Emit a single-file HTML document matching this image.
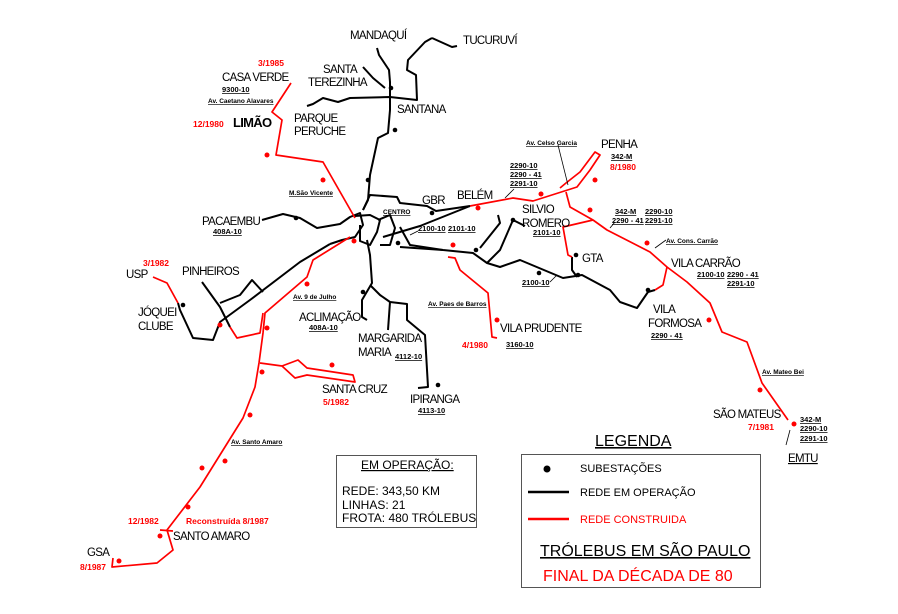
<!DOCTYPE html>
<html><head><meta charset="utf-8"><style>
html,body{margin:0;padding:0;background:#fff;}
svg{display:block;font-family:"Liberation Sans",Arial,sans-serif;}
.k{fill:none;stroke:#000;stroke-width:2;stroke-linejoin:round;}
.r{fill:none;stroke:#f00;stroke-width:1.7;stroke-linejoin:round;}
.L{font-size:11.5px;fill:#000;letter-spacing:-0.7px;}
.c{font-size:7.5px;font-weight:bold;fill:#000;text-decoration:underline;}
.d{font-size:8.5px;font-weight:bold;fill:#f00;}
.a{font-size:6.5px;font-weight:bold;fill:#000;text-decoration:underline;}
</style></head><body>
<svg width="898" height="614" viewBox="0 0 898 614">
<rect width="898" height="614" fill="#fff"/>
<g class="k">
<path d="M377,48 L379,55 L389,70 L390,82 L390,97 L390,110 L388,133 L378,138 L370,175 L368,200 L363,210"/>
<path d="M363,67 L373,78 L385,88"/>
<path d="M432,38 L425,42 L408,60 L407,70 L416,75 L417,100 L390,97 L350,98 L338,102 L323,98 L313,104 L307,106"/>
<path d="M432,38 L452,47 L457,46"/>
<path d="M363,210 L370,195 L397,197 L400,203 L427,206 L436,211 L470,206"/>
<path d="M262,220 L283,214 L300,218 L317,228 L340,224 L350,217 L360,213 L363,225 L355,237 L342,240 L330,244"/>
<path d="M355,216 L370,215 L380,220 L377,232 L370,245 L360,241 L360,225"/>
<path d="M378,220 L390,215 L395,228 L390,245 L380,245"/>
<path d="M383,237 L420,226 L470,206"/>
<path d="M400,227 L410,245 L443,250 L473,253 L487,263 L500,267 L520,260 L563,278 L582,275 L610,290 L620,302 L637,308 L648,292"/>
<path d="M400,247 L443,250"/>
<path d="M487,263 L500,250 L513,220 L525,226"/>
<path d="M480,248 L500,223 L498,215"/>
<path d="M572,257 L572,270 L577,277"/>
<path d="M330,244 L300,262 L250,300 L220,322 L213,340 L193,338 L180,310 L178,303"/>
<path d="M202,282 L220,307 L230,327"/>
<path d="M220,303 L240,295 L252,280 L263,292"/>
<path d="M367,240 L370,255 L372,283 L362,300 L362,317 L367,320"/>
<path d="M370,285 L380,295 L390,302 L388,330 M390,302 L407,304 L407,320 L425,335 L428,387 L418,388"/>
<path d="M648,292 L655,290"/>
</g>
<g class="r">
<path d="M291,83 L272,112 L282,120 L276,155 L323,162 L355,218"/>
<path d="M470,206 L513,198 L533,201 L577,187 L590,170 L600,155 L595,152 L580,172 L566,183 L560,188"/>
<path d="M566,192 L570,207 L593,220 L607,230 L650,252 L667,267 L687,282 L710,303 L722,332 L747,342 L762,383 L788,420"/>
<path d="M593,220 L563,227 L568,255 L572,257"/>
<path d="M667,267 L663,285 L655,290"/>
<path d="M448,257 L455,258 L460,270 L488,293 L492,337 L497,338"/>
<path d="M350,237 L313,260 L307,277 L265,313 L263,333 L259,363 L255,387 L243,418 L200,487 L167,530 L173,550 L157,563 L112,567 L113,558"/>
<path d="M153,277 L167,283 L178,303"/>
<path d="M230,327 L237,338 L260,333 L263,313"/>
<path d="M260,363 L282,366 L298,360 L307,368 L353,375 L355,382 L307,375 L295,378 L282,366"/>
<path d="M160,530 L173,531"/>
</g>
<g fill="#000">
<circle cx="391" cy="88" r="2.3"/><circle cx="395" cy="130" r="2.3"/><circle cx="368" cy="180" r="2.3"/>
<circle cx="296" cy="218" r="2.3"/><circle cx="398" cy="243" r="2.3"/><circle cx="432" cy="213" r="2.3"/>
<circle cx="476" cy="250" r="2.3"/><circle cx="513" cy="220" r="2.3"/><circle cx="539" cy="273" r="2.3"/>
<circle cx="578" cy="275" r="2.3"/><circle cx="648" cy="290" r="2.3"/><circle cx="183" cy="305" r="2.3"/>
<circle cx="363" cy="292" r="2.3"/><circle cx="438" cy="385" r="2.3"/><circle cx="576" cy="255" r="2.3"/>
</g>
<g fill="#f00">
<circle cx="267" cy="155" r="2.5"/><circle cx="323" cy="180" r="2.5"/><circle cx="354" cy="241" r="2.5"/>
<circle cx="478" cy="208" r="2.5"/><circle cx="541" cy="194" r="2.5"/><circle cx="595" cy="180" r="2.5"/>
<circle cx="590" cy="210" r="2.5"/><circle cx="647" cy="243" r="2.5"/><circle cx="709" cy="320" r="2.5"/>
<circle cx="760" cy="390" r="2.5"/><circle cx="794" cy="424" r="2.5"/><circle cx="453" cy="245" r="2.5"/>
<circle cx="497" cy="320" r="2.5"/><circle cx="220" cy="325" r="2.5"/><circle cx="307" cy="284" r="2.5"/>
<circle cx="267" cy="328" r="2.5"/><circle cx="262" cy="372" r="2.5"/><circle cx="332" cy="365" r="2.5"/>
<circle cx="250" cy="415" r="2.5"/><circle cx="225" cy="461" r="2.5"/><circle cx="202" cy="468" r="2.5"/>
<circle cx="188" cy="507" r="2.5"/><circle cx="160" cy="536" r="2.5"/><circle cx="119" cy="561" r="2.5"/>
</g>
<g class="L">
<text x="350" y="39">MANDAQUÍ</text><text x="463" y="44">TUCURUVÍ</text>
<text x="323" y="73">SANTA</text><text x="308" y="86">TEREZINHA</text><text x="397" y="113">SANTANA</text>
<text x="222" y="81">CASA VERDE</text><text x="233" y="127" font-size="13" font-weight="bold">LIMÃO</text>
<text x="294" y="122">PARQUE</text><text x="294" y="135">PERUCHE</text>
<text x="202" y="225">PACAEMBU</text><text x="422" y="204">GBR</text><text x="457" y="199">BELÉM</text>
<text x="522" y="213">SILVIO</text><text x="522" y="227">ROMERO</text><text x="582" y="262">GTA</text>
<text x="601" y="148">PENHA</text><text x="671" y="267">VILA CARRÃO</text>
<text x="653" y="313">VILA</text><text x="648" y="327">FORMOSA</text>
<text x="500" y="332">VILA PRUDENTE</text>
<text x="126" y="278">USP</text><text x="182" y="275">PINHEIROS</text>
<text x="138" y="316">JÓQUEI</text><text x="138" y="330">CLUBE</text>
<text x="299" y="321">ACLIMAÇÃO</text><text x="358" y="342">MARGARIDA</text><text x="358" y="356">MARIA</text>
<text x="322" y="393">SANTA CRUZ</text><text x="410" y="403">IPIRANGA</text>
<text x="173" y="540">SANTO AMARO</text><text x="87" y="556">GSA</text>
<text x="713" y="418">SÃO MATEUS</text>
<text x="788" y="462" style="text-decoration:underline">EMTU</text>
</g>
<g class="c">
<text x="222" y="92">9300-10</text><text x="213" y="234">408A-10</text>
<text x="418" y="231">2100-10</text><text x="448" y="231">2101-10</text><text x="533" y="235">2101-10</text>
<text x="510" y="168">2290-10</text><text x="510" y="177">2290 - 41</text><text x="510" y="186">2291-10</text>
<text x="611" y="159">342-M</text>
<text x="615" y="214">342-M</text><text x="645" y="214">2290-10</text>
<text x="612" y="223">2290 - 41</text><text x="645" y="223">2291-10</text>
<text x="697" y="277">2100-10</text><text x="727" y="277">2290 - 41</text><text x="727" y="286">2291-10</text>
<text x="522" y="285">2100-10</text><text x="651" y="338">2290 - 41</text>
<text x="506" y="347">3160-10</text><text x="309" y="330">408A-10</text>
<text x="395" y="359">4112-10</text><text x="418" y="413">4113-10</text>
<text x="800" y="422">342-M</text><text x="800" y="431">2290-10</text><text x="800" y="441">2291-10</text>
</g>
<g class="d">
<text x="258" y="66">3/1985</text><text x="193" y="127">12/1980</text>
<text x="610" y="170">8/1980</text><text x="462" y="348">4/1980</text>
<text x="143" y="266">3/1982</text><text x="323" y="405">5/1982</text>
<text x="128" y="524">12/1982</text><text x="186" y="524">Reconstruída 8/1987</text>
<text x="80" y="570">8/1987</text><text x="748" y="430">7/1981</text>
</g>
<g class="a">
<text x="208" y="103">Av. Caetano Alavares</text><text x="289" y="195">M.São Vicente</text>
<text x="383" y="214" style="text-decoration:none">CENTRO</text>
<text x="526" y="145">Av. Celso Garcia</text><text x="666" y="243">Av. Cons. Carrão</text>
<text x="428" y="306">Av. Paes de Barros</text><text x="293" y="299">Av. 9 de Julho</text>
<text x="231" y="444">Av. Santo Amaro</text><text x="762" y="374">Av. Mateo Bei</text>
</g>
<g stroke="#000" stroke-width="0.8">
<line x1="505" y1="198" x2="514" y2="189"/><line x1="558" y1="145" x2="568" y2="185"/>
<line x1="610" y1="228" x2="615" y2="222"/><line x1="655" y1="248" x2="666" y2="240"/>
<line x1="410" y1="235" x2="418" y2="231"/><line x1="550" y1="282" x2="557" y2="275"/>
<line x1="786" y1="445" x2="790" y2="430"/>
</g>
<rect x="336.5" y="455.5" width="140" height="72" fill="none" stroke="#555" stroke-width="1"/>
<g font-size="12" fill="#000">
<text x="361" y="469" style="text-decoration:underline">EM OPERAÇÃO:</text>
<text x="342" y="495">REDE:  343,50  KM</text>
<text x="342" y="509">LINHAS:  21</text>
<text x="342" y="522">FROTA: 480 TRÓLEBUS</text>
</g>
<text x="595" y="446" font-size="16" style="text-decoration:underline">LEGENDA</text>
<rect x="521.5" y="454.5" width="239" height="133" fill="none" stroke="#555" stroke-width="1"/>
<circle cx="547" cy="469" r="3.5" fill="#000"/>
<line x1="528" y1="492" x2="569" y2="492" stroke="#000" stroke-width="2.5"/>
<line x1="528" y1="519" x2="569" y2="519" stroke="#f00" stroke-width="2.5"/>
<text x="580" y="472" font-size="11">SUBESTAÇÕES</text>
<text x="580" y="496" font-size="11">REDE EM OPERAÇÃO</text>
<text x="580" y="523" font-size="11" fill="#f00">REDE CONSTRUIDA</text>
<text x="540" y="556" font-size="16" style="text-decoration:underline">TRÓLEBUS EM  SÃO PAULO</text>
<text x="543" y="581" font-size="16" fill="#f00">FINAL DA DÉCADA DE 80</text>
</svg>
</body></html>
